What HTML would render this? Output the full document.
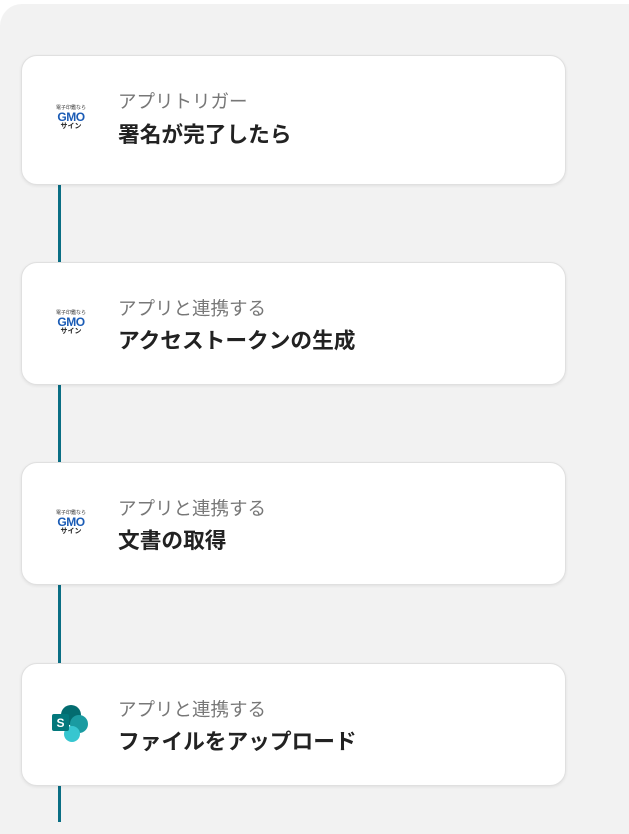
<!DOCTYPE html>
<html><head><meta charset="utf-8"><style>
*{margin:0;padding:0;box-sizing:border-box}
body{width:629px;height:822px;background:#fff;position:relative;overflow:hidden;font-family:"Liberation Sans","Noto Sans CJK JP",sans-serif}
.panel{position:absolute;left:0;top:4px;width:640px;height:830px;background:#f2f2f2;border-top-left-radius:22px}
.line{position:absolute;left:58px;width:3px;background:#0a6e84}
.card{position:absolute;left:21px;width:545px;background:#fff;border-radius:16px;border:1px solid #e0e0e0;box-shadow:0 1px 3px rgba(0,0,0,.08)}
.sub{position:absolute;left:96px;font-size:18.5px;color:#777;line-height:1}
.ttl{position:absolute;left:96px;font-size:21.7px;font-weight:bold;color:#222;line-height:1}
.gmo{position:absolute;left:27px;width:44px;text-align:center;line-height:1}
.gmo .a{font-size:5px;color:#333}
.gmo .b{font-size:12px;font-weight:bold;color:#1a5bb5;letter-spacing:-0.5px}
.gmo .c{font-size:7px;color:#222;font-weight:bold}
</style></head><body>
<div class="panel"></div>
<div class="line" style="top:185px;height:637px"></div>

<div class="card" style="top:55px;height:130px">
<div class="gmo" style="top:50px"><div class="a">電子印鑑なら</div><div class="b">GMO</div><div class="c">サイン</div></div>
<div class="sub" style="top:37px">アプリトリガー</div>
<div class="ttl" style="top:68px">署名が完了したら</div>
</div>

<div class="card" style="top:262px;height:123px">
<div class="gmo" style="top:48px"><div class="a">電子印鑑なら</div><div class="b">GMO</div><div class="c">サイン</div></div>
<div class="sub" style="top:37px">アプリと連携する</div>
<div class="ttl" style="top:67px">アクセストークンの生成</div>
</div>

<div class="card" style="top:462px;height:123px">
<div class="gmo" style="top:48px"><div class="a">電子印鑑なら</div><div class="b">GMO</div><div class="c">サイン</div></div>
<div class="sub" style="top:37px">アプリと連携する</div>
<div class="ttl" style="top:67px">文書の取得</div>
</div>

<div class="card" style="top:663px;height:123px">
<svg style="position:absolute;left:27px;top:40px" width="42" height="40" viewBox="0 0 42 40">
<circle cx="22" cy="11" r="10" fill="#036c70"/>
<circle cx="30" cy="20" r="9" fill="#1a9ba1"/>
<circle cx="23" cy="30" r="8" fill="#37c6d0"/>
<rect x="3" y="10" width="17" height="17" rx="2" fill="#03787c"/>
<text x="11.5" y="23" font-size="12" fill="#fff" text-anchor="middle" font-family="Liberation Sans" font-weight="bold">S</text>
</svg>
<div class="sub" style="top:37px">アプリと連携する</div>
<div class="ttl" style="top:67px">ファイルをアップロード</div>
</div>
</body></html>
